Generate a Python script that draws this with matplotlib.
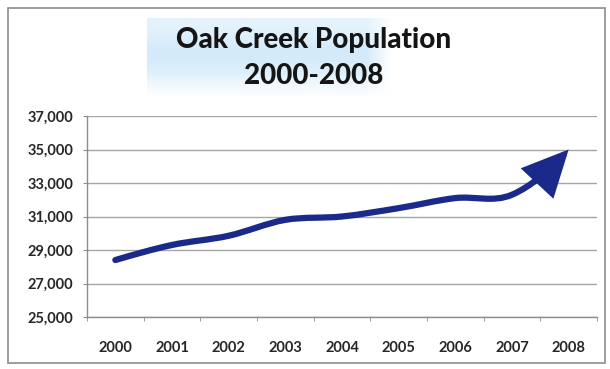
import numpy as np
import matplotlib
matplotlib.use("Agg")
import matplotlib.pyplot as plt
from matplotlib.patches import FancyArrowPatch, Rectangle
from matplotlib.path import Path

years = ["2000", "2001", "2002", "2003", "2004", "2005", "2006", "2007", "2008"]
population = [28400, 29300, 29850, 30800, 31000, 31500, 32100, 32300, 35000]
y_ticks = [25000, 27000, 29000, 31000, 33000, 35000, 37000]

LINE_COLOR = "#1b2a8a"
GRID_COLOR = "#a6a6a6"
TEXT_COLOR = "#262626"
FONT = "Lato"


def smooth_path(xs, ys):
    # cubic bezier through every point, excel-style "smoothed line";
    # end tangents extrapolated so the curve bends into the last point
    pts = np.column_stack([xs, ys]).astype(float)
    n = len(pts)
    tan = np.zeros_like(pts)
    tan[1:-1] = (pts[2:] - pts[:-2]) / 2.0
    tan[0] = 1.5 * (pts[1] - pts[0]) - 0.5 * tan[1]
    tan[-1] = 1.75 * (pts[-1] - pts[-2]) - 0.75 * tan[-2]
    verts = [pts[0]]
    codes = [Path.MOVETO]
    for i in range(n - 1):
        verts += [pts[i] + tan[i] / 3.0, pts[i + 1] - tan[i + 1] / 3.0, pts[i + 1]]
        codes += [Path.CURVE4] * 3
    return Path(np.array(verts), codes)


fig = plt.figure(figsize=(6.10, 3.69), dpi=100)
fig.patch.set_facecolor("white")

# chart border
fig.patches.append(Rectangle((8 / 610, 6 / 369), 597 / 610, 355 / 369,
                             transform=fig.transFigure, fill=False,
                             edgecolor="#8c8c8c", linewidth=1.2))

# pale blue band behind the title
bg = fig.add_axes([147 / 610, 271 / 369, 245 / 610, 80 / 369])
h, w = 80, 245
v = np.linspace(0, 1, h)[:, None]
u = np.linspace(0, 1, w)[None, :]
alpha = (0.35 + 0.25 * np.exp(-((v - 0.45) / 0.25) ** 2)) * np.clip((1 - v) / 0.3, 0, 1)
alpha = alpha * np.clip((1 - u) / 0.1, 0, 1)
img = np.zeros((h, w, 4))
img[..., 0], img[..., 1], img[..., 2] = 0.72, 0.87, 0.97
img[..., 3] = alpha
bg.imshow(img, aspect="auto", interpolation="bilinear")
bg.axis("off")

fig.text(0.514, 0.892, "Oak Creek Population", ha="center", va="center",
         fontsize=20, fontweight="black", family=FONT, color="#151515")
fig.text(0.514, 0.795, "2000-2008", ha="center", va="center",
         fontsize=20, fontweight="black", family=FONT, color="#151515")

ax = fig.add_axes([87 / 610, 52 / 369, 510 / 610, 201 / 369])
x = np.arange(len(years))

arrow = FancyArrowPatch(path=smooth_path(x, population),
                        arrowstyle="-|>,head_length=26,head_width=12.5",
                        mutation_scale=1, color=LINE_COLOR, linewidth=4.5,
                        capstyle="round", joinstyle="miter",
                        transform=ax.transData, zorder=3)
ax.add_patch(arrow)

ax.set_xlim(-0.5, len(years) - 0.5)
ax.set_ylim(y_ticks[0], y_ticks[-1])
ax.set_yticks(y_ticks)
ax.set_yticklabels([f"{v:,}" for v in y_ticks])
ax.set_xticks(x)
ax.set_xticklabels(years)
ax.set_xticks(np.arange(-0.5, len(years)), minor=True)

ax.grid(axis="y", color=GRID_COLOR, linewidth=1)
ax.set_axisbelow(True)
for side in ("top", "right"):
    ax.spines[side].set_visible(False)
for side in ("left", "bottom"):
    ax.spines[side].set_color("#8c8c8c")
    ax.spines[side].set_linewidth(1)

ax.tick_params(axis="y", length=3, color="#8c8c8c", pad=7,
               labelsize=10.5, labelcolor=TEXT_COLOR)
ax.tick_params(axis="x", which="major", length=0, pad=17,
               labelsize=10.5, labelcolor=TEXT_COLOR)
ax.tick_params(axis="x", which="minor", length=3, color="#8c8c8c")
for lbl in ax.get_xticklabels() + ax.get_yticklabels():
    lbl.set_fontweight("bold")
    lbl.set_family(FONT)

fig.savefig("out.png", dpi=100)
